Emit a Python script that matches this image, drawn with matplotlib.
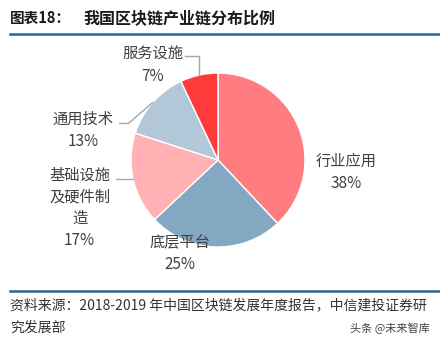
import matplotlib.pyplot as plt
import numpy as np
from matplotlib.lines import Line2D

plt.rcParams['font.family'] = ['Noto Sans CJK SC', 'DejaVu Sans']

# 产业链各环节占比（%）
segments = ['行业应用', '底层平台', '基础设施\n及硬件制\n造', '通用技术', '服务设施']
shares = [38, 25, 17, 13, 7]
colors = ['#FF7C80', '#84A7C2', '#FFB1B3', '#B2C7D8', '#FF3B3B']

W, H = 440, 345
fig = plt.figure(figsize=(W / 100, H / 100), dpi=100)

# pie axes, centre (218,160) px, radius 87 px
cx, cy, r = 218, 160, 87
ax = fig.add_axes([(cx - r) / W, (H - cy - r) / H, 2 * r / W, 2 * r / H])
wedges, _ = ax.pie(shares, colors=colors, startangle=90, counterclock=False,
                   radius=1, wedgeprops=dict(edgecolor='white', linewidth=1))
ax.set_xlim(-1, 1)
ax.set_ylim(-1, 1)
ax.set_aspect('equal')
ax.axis('off')

# label centres in data units
label_pos = [(1.47, -0.14), (-0.44, -1.08), (-1.59, -0.55), (-1.55, 0.34), (-0.75, 1.09)]
for name, val, (lx, ly) in zip(segments, shares, label_pos):
    ax.text(lx, ly, f'{name}\n{val}%', ha='center', va='center', fontsize=11,
            color='#404040', linespacing=1.36, clip_on=False)

# leader lines
def mid_point(w):
    a = np.deg2rad((w.theta1 + w.theta2) / 2)
    return np.cos(a), np.sin(a)

lc = '#A6A6A6'
mx, my = mid_point(wedges[4])
ax.add_line(Line2D([mx, mx, -0.38], [my, 1.20, 1.20], color=lc, lw=1, clip_on=False))
mx, my = mid_point(wedges[3])
ax.add_line(Line2D([mx, -1.03, -1.13], [my, 0.42, 0.42], color=lc, lw=1, clip_on=False))
mx, my = mid_point(wedges[2])
ax.add_line(Line2D([mx, -1.17], [my, my], color=lc, lw=1, clip_on=False))

# header
fig.text(10 / W, 1 - 18 / H, '图表18：', fontsize=10.5, fontweight='bold', color='#1a1a1a',
         va='center', ha='left')
fig.text(83 / W, 1 - 18 / H, '我国区块链产业链分布比例', fontsize=11.5, fontweight='bold',
         color='#1a1a1a', va='center', ha='left')
fig.add_artist(Line2D([10 / W, 1], [1 - 34 / H, 1 - 34 / H], color='#2B6494', lw=1.8))

# footer
fig.add_artist(Line2D([10 / W, 1], [1 - 291 / H, 1 - 291 / H], color='#2B6494', lw=1.8))
fig.text(10 / W, 1 - 305 / H, '资料来源：2018-2019 年中国区块链发展年度报告，中信建投证券研',
         fontsize=10, color='#333333', va='center', ha='left', style='italic')
fig.text(10 / W, 1 - 328 / H, '究发展部', fontsize=10, color='#333333',
         va='center', ha='left', style='italic')
fig.text(430 / W, 1 - 328 / H, '头条 @未来智库', fontsize=8, color='#444444',
         va='center', ha='right')

fig.savefig('out.png', dpi=100)
